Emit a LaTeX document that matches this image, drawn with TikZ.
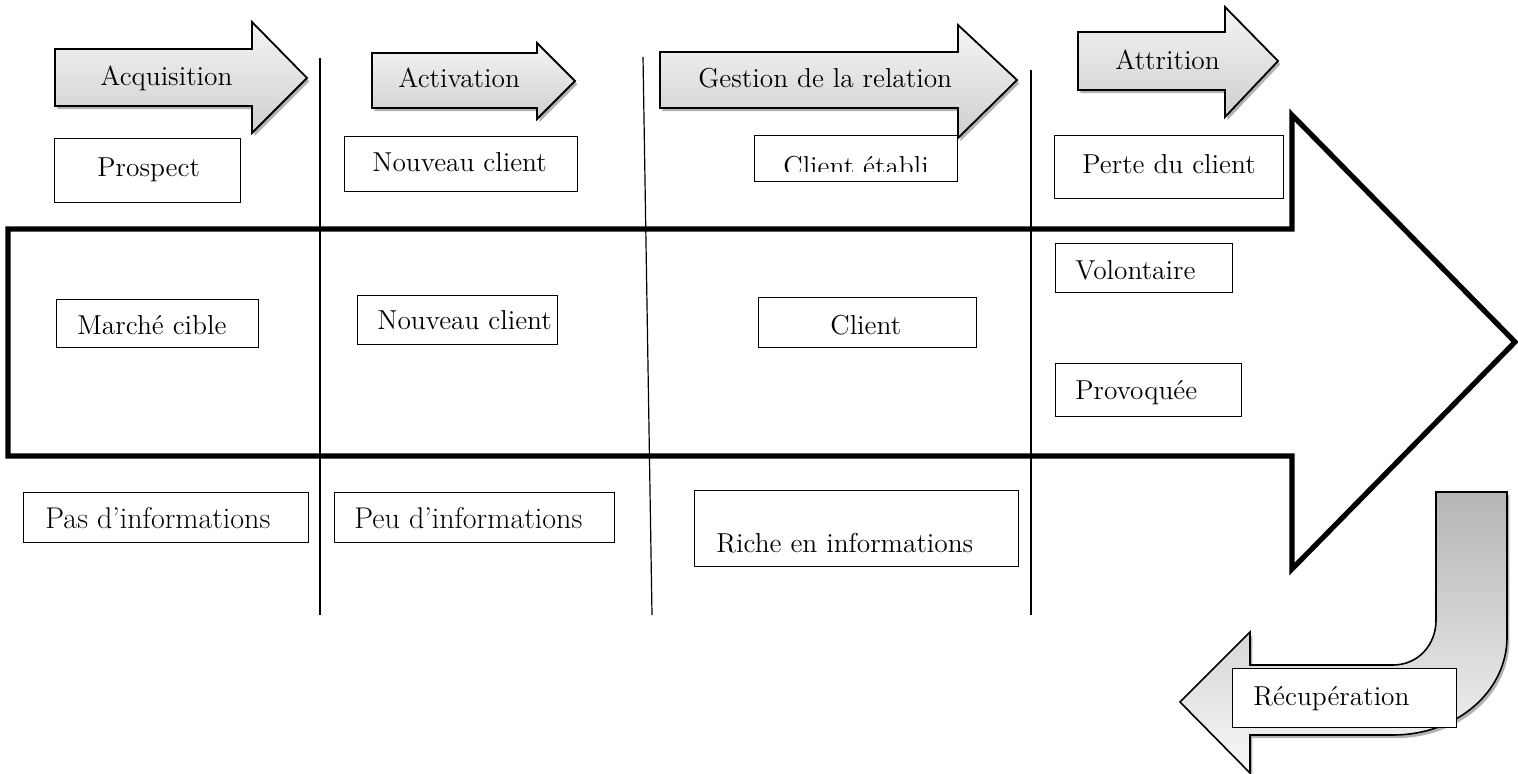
\documentclass[tikz,border=0pt]{standalone}
\usepackage{fontspec}
\usetikzlibrary{shadows}
\begin{document}
\begin{tikzpicture}[x=0.5pt,y=-0.5pt,
  stagearrow/.style={draw=black, line width=0.9pt, line join=miter,
    top color=gray!8, bottom color=gray!38,
    drop shadow={shadow xshift=1.2pt, shadow yshift=-1.6pt, opacity=0.3, fill=black}},
  flowarrow/.style={draw=black, line width=2.6pt, line join=miter, fill=white},
  backarrow/.style={draw=black, line width=0.8pt,
    top color=gray!58, bottom color=gray!6,
    drop shadow={shadow xshift=1.2pt, shadow yshift=-1.6pt, opacity=0.3, fill=black}},
  divider/.style={draw=black, line width=0.6pt},
  frame/.style={draw=black, line width=0.5pt, fill=white, inner sep=0pt},
  label/.style={anchor=base west, inner sep=0pt, font=\rmfamily\fontsize{13.7pt}{16pt}\selectfont},
  biglabel/.style={label, font=\rmfamily\fontsize{15pt}{17pt}\selectfont}
]
\useasboundingbox (0,0) rectangle (1518,774);

% stage arrows along the top
\path[stagearrow] (55,49) -- (252,49) -- (252,22) -- (307,78) -- (252,133) -- (252,106) -- (55,106) -- cycle;
\path[stagearrow] (372,53) -- (537,53) -- (537,43) -- (575,81) -- (537,119) -- (537,108) -- (372,108) -- cycle;
\path[stagearrow] (660,52) -- (958,52) -- (958,25) -- (1017,80) -- (958,138) -- (958,108) -- (660,108) -- cycle;
\path[stagearrow] (1078,32) -- (1225,32) -- (1225,7) -- (1278,61) -- (1225,117) -- (1225,90) -- (1078,90) -- cycle;
\node[label] (tacq) at (100,86) {Acquisition};
\node[label] (tact) at (398,88) {Activation};
\node[label] (tges) at (698,88) {Gestion de la relation};
\node[label] (tatt) at (1115,70) {Attrition};

% large outlined flow arrow
\path[flowarrow] (8,229) -- (1292,229) -- (1292,115) -- (1515,342) -- (1292,569) -- (1292,456) -- (8,456) -- cycle;

% column dividers
\coordinate (d1a) at (320,58);  \coordinate (d1b) at (320,615);
\coordinate (d2a) at (643,57);  \coordinate (d2b) at (652,615);
\coordinate (d3a) at (1031,70); \coordinate (d3b) at (1031,615);
\draw[divider] (d1a) -- (d1b);
\draw[divider] (d2a) -- (d2b);
\draw[divider] (d3a) -- (d3b);

% row 1
\draw[frame] (54,139) rectangle (240,203);
\node[label] (prospect) at (97,177) {Prospect};
\draw[frame] (344,137) rectangle (577,192);
\node[label] (nouveau1) at (372,172) {Nouveau client};
\draw[frame] (754,136) rectangle (957,182);
\begin{scope}
  \clip (754,136) rectangle (957,172);
  \node[label] (etabli) at (783,176) {Client établi};
\end{scope}
\draw[frame] (1054,136) rectangle (1283,199);
\node[label] (perte) at (1082,174) {Perte du client};

% row 2
\draw[frame] (56,300) rectangle (258,348);
\node[label] (marche) at (77,335) {Marché cible};
\draw[frame] (357,296) rectangle (557,345);
\node[label] (nouveau2) at (377,330) {Nouveau client};
\draw[frame] (758,298) rectangle (976,348);
\node[label] (client) at (830,335) {Client};
\draw[frame] (1055,244) rectangle (1232,293);
\node[label] (volont) at (1075,280) {Volontaire};
\draw[frame] (1055,364) rectangle (1241,417);
\node[label] (provoq) at (1075,400) {Provoquée};

% row 3
\draw[frame] (23,492) rectangle (308,542);
\node[biglabel] (pas) at (45,528) {Pas d’informations};
\draw[frame] (334,492) rectangle (614,542);
\node[biglabel] (peu) at (354,528) {Peu d’informations};
\draw[frame] (694,490) rectangle (1018,566);
\node[label] (riche) at (716,552) {Riche en informations};

% curved return arrow
\path[backarrow] (1507,492) -- (1436,492) -- (1436,620)
  .. controls (1436,645) and (1418,665) .. (1393,665)
  -- (1250,665) -- (1250,632) -- (1180,702) -- (1250,773) -- (1250,735)
  -- (1393,735)
  .. controls (1456,735) and (1507,692) .. (1507,637) -- cycle;
\draw[frame] (1232,668) rectangle (1456,727);
\node[label] (recup) at (1253,705) {Récupération};
\end{tikzpicture}
\end{document}
